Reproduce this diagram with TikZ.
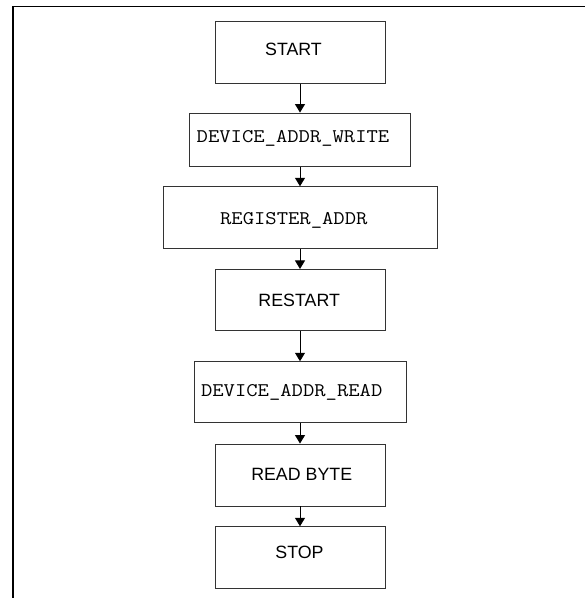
\documentclass[tikz,border=0pt]{standalone}
\usepackage{fontspec}
\setmainfont{Liberation Sans}
\newfontfamily\monofam{Latin Modern Mono}[FakeStretch=1.14]
\usetikzlibrary{arrows.meta}

\begin{document}
\begin{tikzpicture}[x=1pt,y=-1pt,
  stepbox/.style={draw=black!80, line width=0.9pt, rectangle, inner sep=0pt,
                  minimum height=61.5pt, minimum width=170pt},
  sanstext/.style={font=\fontsize{17.8}{20}\selectfont, anchor=base, inner sep=0pt},
  monotext/.style={font=\monofam\fontsize{19.3}{21}\selectfont, anchor=base, inner sep=0pt},
  flow/.style={line width=1pt, -{Triangle[length=8.5pt,width=10pt]}}]

  \useasboundingbox (0,0) rectangle (585,598);

  % page frame (top and left edges)
  \draw[line width=1.8pt] (590,6.5) -- (12.7,6.5) -- (12.7,605);

  % boxes
  \node[stepbox] (start) at (300,52.5) {};
  \node[stepbox, minimum width=221.4pt, minimum height=53.7pt] (devw) at (300,139.85) {};
  \node[stepbox, minimum width=274pt] (reg) at (300.3,217.5) {};
  \node[stepbox] (restart) at (300,300.15) {};
  \node[stepbox, minimum width=212.7pt, minimum height=61pt] (devr) at (300.3,392.2) {};
  \node[stepbox, minimum height=62pt] (readbyte) at (300.3,475) {};
  \node[stepbox] (stop) at (300.2,557.5) {};

  % labels
  \node[sanstext] (startText) at (293.5,55) {START};
  \node[monotext] (devwText) at (293,142.3) {DEVICE\_ADDR\_WRITE};
  \node[monotext] (regText) at (293.8,224.5) {REGISTER\_ADDR};
  \node[sanstext] (restartText) at (299.2,306.7) {RESTART};
  \node[monotext] (devrText) at (291.7,396) {DEVICE\_ADDR\_READ};
  \node[sanstext] (readbyteText) at (301.7,480.7) {READ BYTE};
  \node[sanstext] (stopText) at (299.5,558.3) {STOP};

  % connectors
  \draw[flow] (start.south) -- (devw.north);
  \draw[flow] (devw.south) -- (reg.north -| devw.south);
  \draw[flow] (reg.south -| devw.south) -- (restart.north);
  \draw[flow] (restart.south) -- (devr.north -| restart.south);
  \draw[flow] (devr.south -| restart.south) -- (readbyte.north -| restart.south);
  \draw[flow] (readbyte.south -| restart.south) -- (stop.north -| restart.south);
\end{tikzpicture}
\end{document}
